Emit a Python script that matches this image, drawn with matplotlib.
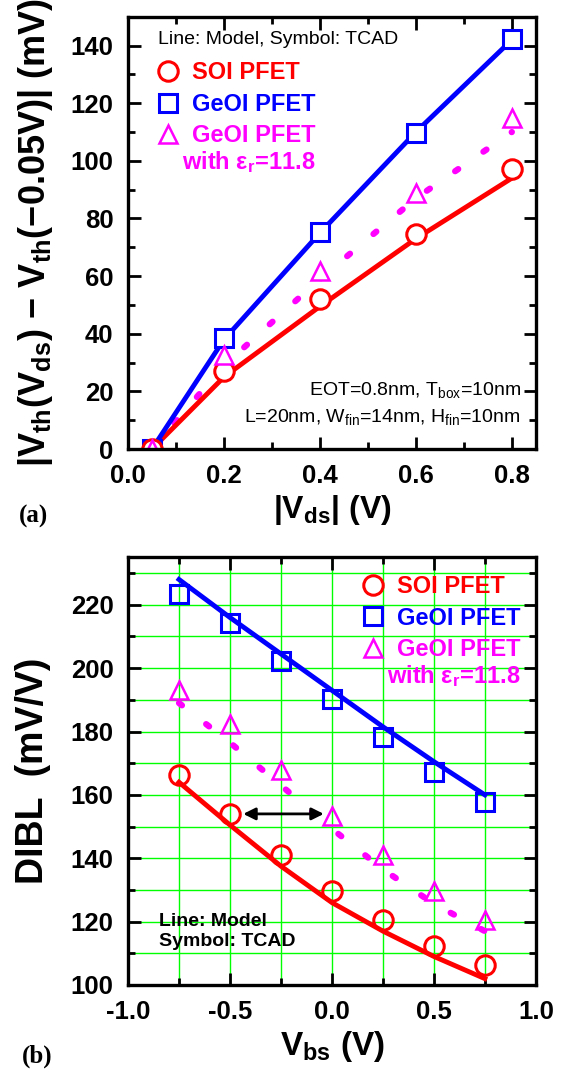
import matplotlib
matplotlib.use('Agg')
import matplotlib.pyplot as plt
from matplotlib.ticker import MultipleLocator

plt.rcParams['font.family'] = ['Liberation Sans', 'DejaVu Sans']
plt.rcParams['font.weight'] = 'bold'
plt.rcParams['axes.labelweight'] = 'bold'
plt.rcParams['mathtext.default'] = 'regular'
plt.rcParams['axes.unicode_minus'] = False

RED = '#ff0000'
BLUE = '#0000ff'
MAG = '#ff00ff'
GREEN = '#00ff00'

# (a) Vth shift vs |Vds|
vds = [0.05, 0.2, 0.4, 0.6, 0.8]
soi_tcad = [0, 27, 52, 74.6, 97]
geoi_tcad = [0, 38.7, 75.3, 109.6, 142.3]
geoi_er_tcad = [0, 32.7, 61.8, 88.8, 114.7]
soi_model = [0, 25, 49.5, 73, 94]
geoi_model = [0, 38, 75, 110, 142]
geoi_er_model = [0, 29, 59, 87, 110]

# (b) DIBL vs Vbs
vbs = [-0.75, -0.5, -0.25, 0.0, 0.25, 0.5, 0.75]
soi_dibl_tcad = [166.4, 154.1, 140.9, 129.8, 120.6, 112.4, 106.3]
geoi_dibl_tcad = [223.3, 214.4, 202.3, 190.2, 178.4, 167.2, 157.9]
geoi_er_dibl_tcad = [193.1, 182.5, 167.7, 153.3, 140.9, 129.8, 120.6]
soi_dibl_model = [164, 150.5, 137.5, 126, 117, 109, 102]
geoi_dibl_model = [228, 216, 204.5, 193, 181.5, 170.5, 160]
geoi_er_dibl_model = [189, 176.5, 163, 149.3, 136.5, 125.6, 117]

legend_labels = ['SOI PFET', 'GeOI PFET', 'GeOI PFET']
er_label = 'with ε$_r$=11.8'

# short round dashes for the eps_r=11.8 model
DOTS = (0, (0.6, 4.9))


def style_axes(ax):
    for s in ax.spines.values():
        s.set_linewidth(2.4)
    ax.tick_params(which='both', direction='in', top=True, right=True, width=2.0)
    ax.tick_params(which='major', length=9, labelsize=18.5, pad=10.5)
    ax.tick_params(which='minor', length=5)


def add_legend(ax, handles, anchor):
    leg = ax.legend(handles, legend_labels, loc='upper left', bbox_to_anchor=anchor,
                    frameon=False, borderpad=0, borderaxespad=0, handlelength=1.0,
                    handletextpad=0.5, labelspacing=0.36, numpoints=1,
                    prop={'size': 17, 'weight': 'bold'}, labelcolor='markeredgecolor')
    ax.annotate(er_label, xy=(1, 0), xycoords=leg.get_texts()[2], xytext=(0, -1),
                textcoords='offset points', ha='right', va='top', color=MAG,
                fontsize=17, fontweight='bold', zorder=6)
    return leg


fig = plt.figure(figsize=(5.68, 10.74), dpi=100)

# ---------- (a) ----------
ax1 = fig.add_axes([0.2254, 0.5819, 0.718, 0.4025])
style_axes(ax1)
ax1.plot(vds, geoi_er_model, color=MAG, lw=4.5, linestyle=DOTS, dash_capstyle='round')
ax1.plot(vds, soi_model, color=RED, lw=3.5)
ax1.plot(vds, geoi_model, color=BLUE, lw=3.5)
h_geoi, = ax1.plot(vds, geoi_tcad, 's', ms=12.5, mfc='white', mec=BLUE, mew=2.2, color=BLUE)
h_soi, = ax1.plot(vds, soi_tcad, 'o', ms=14, mfc='white', mec=RED, mew=2.2, color=RED)
h_er, = ax1.plot(vds, geoi_er_tcad, '^', ms=13, mfc='white', mec=MAG, mew=1.8, color=MAG)
ax1.set_xlim(0, 0.85)
ax1.set_ylim(0, 150)
ax1.xaxis.set_major_locator(MultipleLocator(0.2))
ax1.xaxis.set_minor_locator(MultipleLocator(0.1))
ax1.yaxis.set_major_locator(MultipleLocator(20))
ax1.yaxis.set_minor_locator(MultipleLocator(10))
ax1.set_xlabel('|V$_{ds}$| (V)', fontsize=23, labelpad=4)
ax1.set_ylabel('|V$_{th}$(V$_{ds}$) − V$_{th}$(−0.05V)| (mV)', fontsize=26, labelpad=11)

ax1.text(0.0725, 0.9468, 'Line: Model, Symbol: TCAD', transform=ax1.transAxes,
         fontsize=14, fontweight='normal', va='center', ha='left')
add_legend(ax1, [h_soi, h_geoi, h_er], (0.0688, 0.897))
ax1.text(0.963, 0.1365, 'EOT=0.8nm, T$_{box}$=10nm', transform=ax1.transAxes,
         fontsize=14, fontweight='normal', va='center', ha='right')
ax1.text(0.963, 0.075, 'L=20nm, W$_{fin}$=14nm, H$_{fin}$=10nm', transform=ax1.transAxes,
         fontsize=14, fontweight='normal', va='center', ha='right')

# ---------- (b) ----------
ax2 = fig.add_axes([0.2254, 0.0829, 0.718, 0.3982])
style_axes(ax2)
ax2.grid(which='both', color=GREEN, linewidth=1.0)
ax2.set_axisbelow(True)
ax2.plot(vbs, geoi_er_dibl_model, color=MAG, lw=4.5, linestyle=DOTS, dash_capstyle='round')
ax2.plot(vbs, soi_dibl_model, color=RED, lw=3.5)
ax2.plot(vbs, geoi_dibl_model, color=BLUE, lw=3.5)
h2_soi, = ax2.plot(vbs, soi_dibl_tcad, 'o', ms=14, mfc='none', mec=RED, mew=2.2, color=RED)
h2_geoi, = ax2.plot(vbs, geoi_dibl_tcad, 's', ms=12.5, mfc='none', mec=BLUE, mew=2.2, color=BLUE)
h2_er, = ax2.plot(vbs, geoi_er_dibl_tcad, '^', ms=13, mfc='none', mec=MAG, mew=1.8, color=MAG)
ax2.annotate('', xy=(-0.04, 154), xytext=(-0.435, 154),
             arrowprops=dict(arrowstyle='<|-|>', color='black', lw=2,
                             mutation_scale=18, shrinkA=0, shrinkB=0))
ax2.set_xlim(-1, 1)
ax2.set_ylim(100, 235)
ax2.xaxis.set_major_locator(MultipleLocator(0.5))
ax2.xaxis.set_minor_locator(MultipleLocator(0.25))
ax2.yaxis.set_major_locator(MultipleLocator(20))
ax2.yaxis.set_minor_locator(MultipleLocator(10))
ax2.set_xlabel('V$_{bs}$ (V)', fontsize=24, labelpad=4)
ax2.set_ylabel('DIBL  (mV/V)', fontsize=27, labelpad=14)

add_legend(ax2, [h2_soi, h2_geoi, h2_er], (0.572, 0.958))
ax2.text(0.0755, 0.125, 'Line: Model\nSymbol: TCAD', transform=ax2.transAxes,
         fontsize=14, fontweight='bold', va='center', ha='left', linespacing=1.2)

fig.text(33 / 568, 1 - 516 / 1074, '(a)', family='Liberation Serif', fontweight='bold',
         fontsize=18, ha='center', va='center')
fig.text(37 / 568, 1 - 1056 / 1074, '(b)', family='Liberation Serif', fontweight='bold',
         fontsize=18, ha='center', va='center')

fig.savefig('out.png', dpi=100)
